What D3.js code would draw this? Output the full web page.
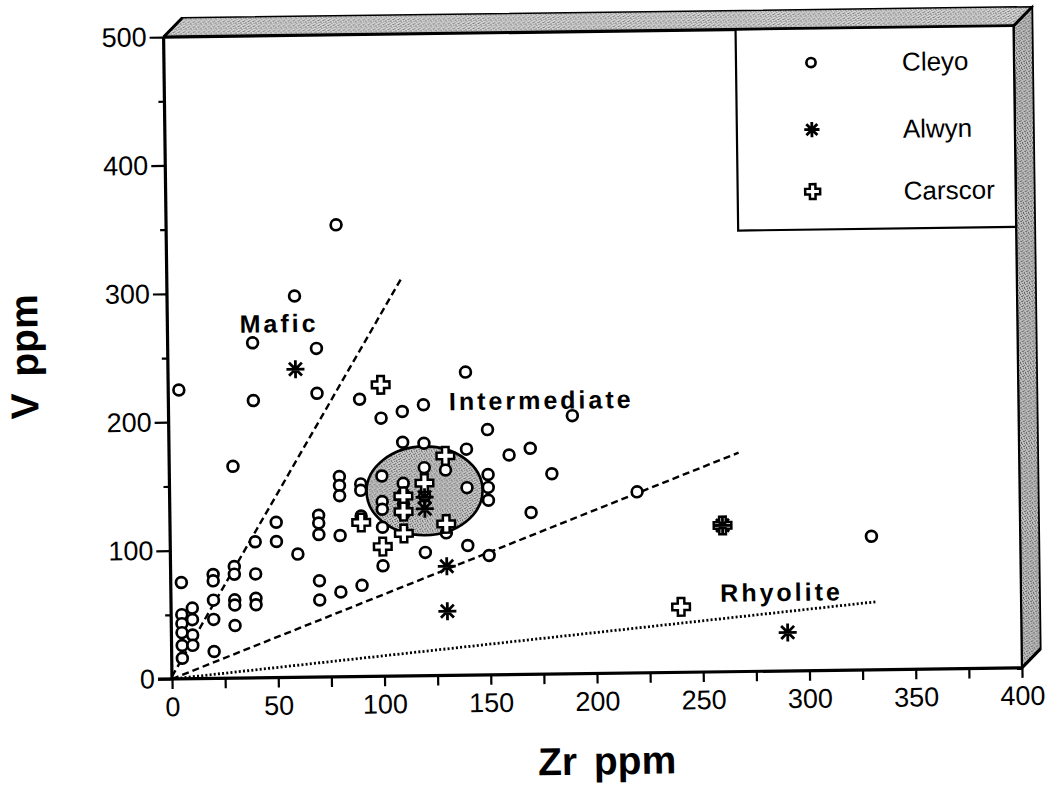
<!DOCTYPE html>
<html>
<head>
<meta charset="utf-8">
<script src="https://cdn.jsdelivr.net/npm/d3@7"></script>
<style>
  html, body { margin: 0; padding: 0; background: #ffffff; }
  svg { display: block; }
  text { font-family: "Liberation Sans", Arial, Helvetica, sans-serif; fill: #000; }
</style>
</head>
<body>
<svg id="chart" width="1057" height="788"></svg>
<script>
// ---------------- data ----------------
const cleyo = [
  [5,225],[5,75],[5,50],[5,43],[5,36],[5,26],[5,16],
  [10,55],[10,46],[10,34],[10,26],
  [20,81],[20,76],[20,61],[20,46],[20,21],
  [30,165],[30,87],[30,81],[30,61],[30,57],[30,41],
  [40,261],[40,216],[40,106],[40,81],[40,62],[40,57],
  [50,121],[50,106],
  [60,297],[60,96],
  [70,256],[70,221],[70,126],[70,120],[70,111],[70,75],[70,60],
  [80,352],[80,156],[80,149],[80,141],[80,110],[80,66],
  [90,216],[90,150],[90,145],[90,125],[90,71],
  [100,201],[100,156],[100,136],[100,130],[100,116],[100,86],
  [110,206],[110,182],[110,150],[110,142],[110,134],[110,126],
  [120,211],[120,181],[120,162],[120,140],[120,96],
  [130,160],[130,111],
  [140,236],[140,176],[140,146],[140,101],
  [150,191],[150,156],[150,146],[150,136],[150,93],
  [160,171],[170,176],[170,126],[180,156],[190,201],[220,141],[330,104]
];
const alwyn = [[60,240],[120,139],[120,130],[130,85],[130,50],[260,114],[290,30]];
const carscor = [[90,120],[100,227],[100,101],[110,140],[110,128],[110,111],[120,150],[130,171],[130,118],[240,51],[260,114]];

const seriesNames = ["Cleyo","Alwyn","Carscor"];
const xTickValues = [0,25,50,75,100,125,150,175,200,225,250,275,300,325,350,375,400];
const xTickLabels = [0,50,100,150,200,250,300,350,400];
const yTickValues = [0,50,100,150,200,250,300,350,400,450,500];
const yTickLabels = [0,100,200,300,400,500];

const maficLine = [[0,2],[110.5,310]];
const intermediateLine = [[0,0],[268,170.5]];
const rhyoliteLine = [[0,0],[332,53]];
const fieldEllipse = {cx:120, cy:144, rx:27.3, ry:34.6};
const regionLabels = [
  {text:"Mafic", x:34, y:269},
  {text:"Intermediate", x:132, y:206.5},
  {text:"Rhyolite", x:258.5, y:54.5}
];

// ---------------- layout ----------------
const W = 850, H = 642, depth = 19;
const svg = d3.select("#chart");

// stipple patterns (scattered dots, 5x5 cell)
const defs = svg.append("defs");
const dotCells = [[0,0],[3,1],[1,2],[4,3],[2,4],[2,0],[0,3]];
function stipple(id, bg, dot) {
  const p = defs.append("pattern").attr("id", id).attr("width", 5).attr("height", 5)
    .attr("patternUnits", "userSpaceOnUse");
  p.append("rect").attr("width", 5).attr("height", 5).attr("fill", bg);
  dotCells.forEach(c => p.append("rect").attr("x", c[0]).attr("y", c[1])
    .attr("width", 1).attr("height", 1).attr("fill", dot));
}
stipple("stTop", "#d4d4d4", "#7a7a7a");
stipple("stRight", "#c0c0c0", "#606060");
stipple("stField", "#c6c6c6", "#6e6e6e");

const g = svg.append("g").attr("transform", "translate(172,679) rotate(-0.75)");

const x = d3.scaleLinear().domain([0,400]).range([0,W]);
const y = d3.scaleLinear().domain([0,500]).range([0,-H]);

// 3D frame bands
g.append("path")
  .attr("d", `M0,${-H} L${W},${-H} L${W+depth},${-H-depth} L${depth},${-H-depth} Z`)
  .attr("fill", "url(#stTop)").attr("stroke", "#000").attr("stroke-width", 1.5);
g.append("path")
  .attr("d", `M${W},${-H} L${W+depth},${-H-depth} L${W+depth},${-depth} L${W},0 Z`)
  .attr("fill", "url(#stRight)").attr("stroke", "#000").attr("stroke-width", 1.8);
g.append("line").attr("x1",0).attr("y1",-H).attr("x2",depth).attr("y2",-H-depth)
  .attr("stroke","#000").attr("stroke-width",3);
g.append("line").attr("x1",W).attr("y1",-H).attr("x2",W+depth).attr("y2",-H-depth)
  .attr("stroke","#000").attr("stroke-width",3);
g.append("line").attr("x1",W).attr("y1",0).attr("x2",W+depth).attr("y2",-depth)
  .attr("stroke","#000").attr("stroke-width",3);

// plot background
g.append("rect").attr("x",0).attr("y",-H).attr("width",W).attr("height",H).attr("fill","#fff");
// top & right plot edges
g.append("line").attr("x1",0).attr("y1",-H).attr("x2",W).attr("y2",-H).attr("stroke","#000").attr("stroke-width",3.2);
g.append("line").attr("x1",W).attr("y1",-H).attr("x2",W).attr("y2",0).attr("stroke","#000").attr("stroke-width",2.2);

// legend box
const lgW = 278, lgH = 201;
const lg = g.append("g").attr("transform", `translate(${W-lgW},${-H})`);
lg.append("rect").attr("x",0).attr("y",0).attr("width",lgW).attr("height",lgH)
  .attr("fill","#fff").attr("stroke","#000").attr("stroke-width",2.2);

// symbols
function crossPath(a, L) {
  return `M${-a},${-L}H${a}V${-a}H${L}V${a}H${a}V${L}H${-a}V${a}H${-L}V${-a}H${-a}Z`;
}
function starPath(s) {
  const d = s * 0.72;
  return `M${-s},0L${s},0M0,${-s}L0,${s}M${-d},${-d}L${d},${d}M${-d},${d}L${d},${-d}`;
}
function drawSymbol(sel, type, scale) {
  if (type === "Cleyo") {
    sel.append("circle").attr("r", 5.4*scale).attr("fill","#fff").attr("stroke","#000").attr("stroke-width",2.7);
  } else if (type === "Alwyn") {
    sel.append("path").attr("d", starPath(9*scale)).attr("fill","none").attr("stroke","#000").attr("stroke-width",2.8);
  } else {
    sel.append("path").attr("d", crossPath(3.3*scale, 8.8*scale)).attr("fill","#fff").attr("stroke","#000").attr("stroke-width",2.5);
  }
}

const rowY = [34, 101, 163];
seriesNames.forEach((name, i) => {
  const row = lg.append("g").attr("transform", `translate(75,${rowY[i]})`);
  drawSymbol(row, name, 0.85);
  lg.append("text").attr("x", 166).attr("y", rowY[i]).attr("dy","0.36em")
    .attr("font-size", 26).text(name);
});

// region lines
const line = d3.line().x(d => x(d[0])).y(d => y(d[1]));
g.append("path").datum(maficLine).attr("d", line).attr("fill","none")
  .attr("stroke","#000").attr("stroke-width",2.4).attr("stroke-dasharray","7,4");
g.append("path").datum(intermediateLine).attr("d", line).attr("fill","none")
  .attr("stroke","#000").attr("stroke-width",2.4).attr("stroke-dasharray","7,4");
g.append("path").datum(rhyoliteLine).attr("d", line).attr("fill","none")
  .attr("stroke","#000").attr("stroke-width",2.8).attr("stroke-dasharray","2,2.2");

// shaded field
g.append("ellipse")
  .attr("cx", x(fieldEllipse.cx)).attr("cy", y(fieldEllipse.cy))
  .attr("rx", x(fieldEllipse.rx) - x(0)).attr("ry", y(0) - y(fieldEllipse.ry))
  .attr("fill","url(#stField)").attr("stroke","#000").attr("stroke-width",2.6);

// region labels
g.selectAll("text.region").data(regionLabels).enter().append("text")
  .attr("class","region")
  .attr("x", d => x(d.x)).attr("y", d => y(d.y))
  .attr("font-size", 25).attr("font-weight","bold").attr("letter-spacing", 3)
  .text(d => d.text);

// points
const pts = [];
cleyo.forEach(d => pts.push({s:"Cleyo", v:d}));
carscor.forEach(d => pts.push({s:"Carscor", v:d}));
alwyn.forEach(d => pts.push({s:"Alwyn", v:d}));
pts.forEach(p => {
  const sg = g.append("g").attr("transform", `translate(${x(p.v[0])},${y(p.v[1])})`);
  drawSymbol(sg, p.s, 1);
});

// axes
const xAxis = d3.axisBottom(x).tickValues(xTickValues).tickSize(10).tickSizeOuter(0).tickPadding(8)
  .tickFormat(d => xTickLabels.includes(d) ? d : "");
const gx = g.append("g").call(xAxis);
gx.select(".domain").remove();
gx.selectAll(".tick line").attr("stroke","#000").attr("stroke-width",2.2);
gx.selectAll(".tick text").attr("font-size",27).attr("font-family","Liberation Sans, Arial, sans-serif");

const yAxis = d3.axisLeft(y).tickValues(yTickValues).tickSize(14).tickSizeOuter(0).tickPadding(3)
  .tickFormat(d => yTickLabels.includes(d) ? d : "");
const gy = g.append("g").call(yAxis);
gy.select(".domain").remove();
gy.selectAll(".tick line").attr("stroke","#000").attr("stroke-width",2.2)
  .attr("x2", d => yTickLabels.includes(d) ? -14 : -6);
gy.selectAll(".tick text").attr("font-size",27).attr("font-family","Liberation Sans, Arial, sans-serif");

// axis lines
g.append("line").attr("x1",-14).attr("y1",0).attr("x2",W).attr("y2",0).attr("stroke","#000").attr("stroke-width",3.2);
g.append("line").attr("x1",0).attr("y1",0).attr("x2",0).attr("y2",-H).attr("stroke","#000").attr("stroke-width",3.2);

// axis titles
g.append("text").attr("x", 434).attr("y", 101).attr("text-anchor","middle")
  .attr("font-size", 39).attr("font-weight","bold").attr("word-spacing", 6).text("Zr ppm");
g.append("text").attr("transform","translate(-130,-324) rotate(-90)").attr("text-anchor","middle")
  .attr("font-size", 39).attr("font-weight","bold").attr("word-spacing", 6).text("V ppm");
</script>
</body>
</html>
